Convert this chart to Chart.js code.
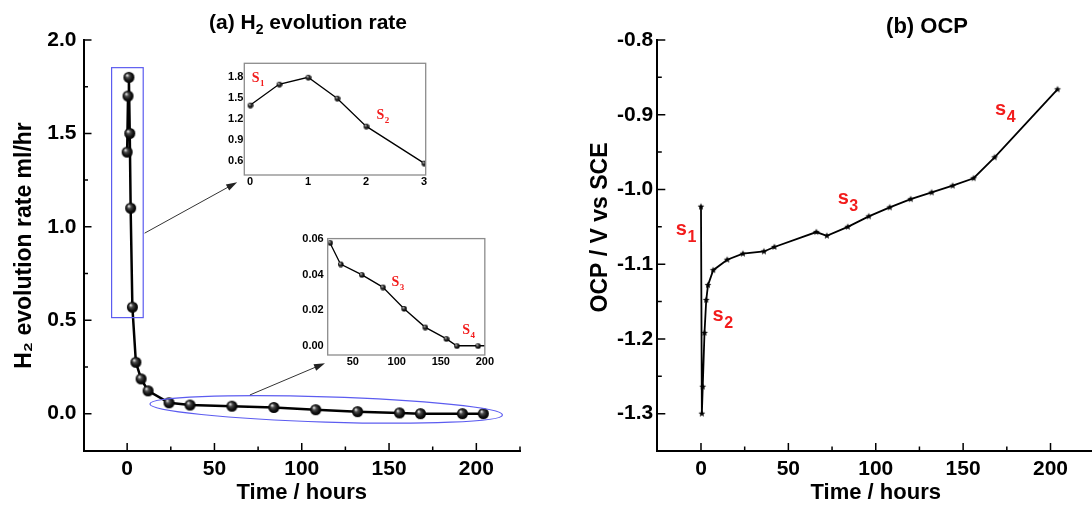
<!DOCTYPE html>
<html>
<head>
<meta charset="utf-8">
<title>H2 evolution rate and OCP</title>
<script src="https://cdn.jsdelivr.net/npm/chart.js@4.4.0/dist/chart.umd.min.js"></script>
<style>
  html, body { margin: 0; padding: 0; background: #fff; overflow: hidden; width: 1092px; height: 512px; }
  canvas { position: absolute; }
</style>
</head>
<body>
<canvas id="mainA" width="546" height="512" style="left:0;top:0"></canvas>
<canvas id="insetA1" width="226" height="140" style="left:205px;top:55px"></canvas>
<canvas id="insetA2" width="212" height="142" style="left:282px;top:228px"></canvas>
<canvas id="mainB" width="554" height="512" style="left:546px;top:0"></canvas>
<script>
// (a) H2 evolution rate, ml/hr vs time in hours
const hoursA = [0, 0.5, 1, 1.5, 2, 3, 5, 8, 12, 24, 36, 60, 84, 108, 132, 156, 168, 192, 204];
const rateA = [1.4, 1.7, 1.8, 1.5, 1.1, 0.57, 0.275, 0.186, 0.122, 0.058, 0.046, 0.040, 0.033, 0.021, 0.0105, 0.004, 0, 0, 0];

// (b) OCP, V vs SCE
const hoursB = [0, 0.5, 1, 2, 3, 4, 7, 15, 24, 36, 42, 66, 72, 84, 96, 108, 120, 132, 144, 156, 168, 204];
const ocpB = [-1.023, -1.300, -1.264, -1.192, -1.148, -1.128, -1.108, -1.094, -1.086, -1.083, -1.077, -1.057, -1.062, -1.050, -1.036, -1.024, -1.013, -1.004, -0.995, -0.985, -0.957, -0.866];

// tick labels
const xTicks = [0, 50, 100, 150, 200];
const xMinor = [25, 75, 125, 175, 225];
const yTicksA = [0, 0.5, 1.0, 1.5, 2.0];
const yMinorA = [0.25, 0.75, 1.25, 1.75];
const yTicksB = [-1.3, -1.2, -1.1, -1.0, -0.9, -0.8];
const yMinorB = [-1.25, -1.15, -1.05, -0.95, -0.85];
const xTicksIn1 = [0, 1, 2, 3];
const yTicksIn1 = [0.6, 0.9, 1.2, 1.5, 1.8];
const xTicksIn2 = [50, 100, 150, 200];
const yTicksIn2 = [0, 0.02, 0.04, 0.06];

const FONT = 'Arial, "Liberation Sans", sans-serif';
const SERIF = '"Times New Roman", "Liberation Serif", serif';
const RED = '#f21c1c';
const BLUE = '#5c5cf0';

// shaded ball marker
function ball(r) {
  const c = document.createElement('canvas');
  c.width = c.height = r * 2 + 2;
  const g = c.getContext('2d');
  const m = r + 1;
  const grad = g.createRadialGradient(m - r * 0.35, m - r * 0.4, r * 0.08, m, m, r);
  grad.addColorStop(0, '#e6e6e6');
  grad.addColorStop(0.3, '#4a4a4a');
  grad.addColorStop(0.7, '#111');
  grad.addColorStop(1, '#000');
  g.fillStyle = grad;
  g.beginPath();
  g.arc(m, m, r, 0, Math.PI * 2);
  g.fill();
  return c;
}

// small filled star marker
function star(r) {
  const c = document.createElement('canvas');
  c.width = c.height = Math.ceil(r * 2) + 2;
  const g = c.getContext('2d');
  const m = c.width / 2;
  g.beginPath();
  for (let i = 0; i < 10; i++) {
    const a = -Math.PI / 2 + i * Math.PI / 5;
    const rr = i % 2 ? r * 0.45 : r;
    g.lineTo(m + rr * Math.cos(a), m + rr * Math.sin(a));
  }
  g.closePath();
  g.fillStyle = '#000';
  g.fill();
  return c;
}

const pts = (xs, ys) => xs.map((x, i) => ({x, y: ys[i]}));
const setTicks = vals => axis => { axis.ticks = vals.map(v => ({value: v})); };

function inTicks(chart, xMaj, xMin, yMaj, yMin) {
  const {ctx, chartArea: a, scales: {x, y}} = chart;
  ctx.save();
  ctx.strokeStyle = '#000';
  ctx.lineWidth = 1.5;
  ctx.beginPath();
  const tx = (vals, len) => vals.forEach(v => {
    const p = x.getPixelForValue(v);
    ctx.moveTo(p, a.bottom); ctx.lineTo(p, a.bottom - len);
  });
  const ty = (vals, len) => vals.forEach(v => {
    const p = y.getPixelForValue(v);
    ctx.moveTo(a.left, p); ctx.lineTo(a.left + len, p);
  });
  tx(xMaj, 8); tx(xMin, 4.5); ty(yMaj, 8); ty(yMin, 4.5);
  ctx.stroke();
  ctx.restore();
}

function subText(ctx, txt, sub, x, y, font, subFont, dy) {
  ctx.textAlign = 'left';
  ctx.textBaseline = 'alphabetic';
  ctx.font = font;
  ctx.fillText(txt, x, y);
  const w = ctx.measureText(txt).width;
  ctx.font = subFont;
  ctx.fillText(sub, x + w + 0.5, y + dy);
}

function arrow(ctx, x0, y0, x1, y1) {
  const ang = Math.atan2(y1 - y0, x1 - x0);
  const c = Math.cos(ang), s = Math.sin(ang);
  ctx.beginPath();
  ctx.moveTo(x0, y0);
  ctx.lineTo(x1 - 8 * c, y1 - 8 * s);
  ctx.stroke();
  ctx.beginPath();
  ctx.moveTo(x1, y1);
  ctx.lineTo(x1 - 11 * c + 3.5 * s, y1 - 11 * s - 3.5 * c);
  ctx.lineTo(x1 - 11 * c - 3.5 * s, y1 - 11 * s + 3.5 * c);
  ctx.closePath();
  ctx.fill();
}

function axisOpts(extra) {
  return Object.assign({
    type: 'linear',
    grid: {display: false, drawTicks: false},
    border: {display: true, color: '#000', width: 2},
  }, extra);
}

// ---------- (a) main ----------
new Chart(document.getElementById('mainA'), {
  type: 'line',
  data: {
    datasets: [{
      data: pts(hoursA, rateA),
      borderColor: '#000',
      borderWidth: 2.5,
      pointStyle: ball(5.5),
      pointRadius: 5.5,
      tension: 0
    }]
  },
  options: {
    responsive: false,
    animation: false,
    devicePixelRatio: 1,
    layout: {padding: {top: 40, right: 26, left: 0, bottom: 0}},
    plugins: {legend: {display: false}, tooltip: {enabled: false}},
    scales: {
      x: axisOpts({
        min: -25, max: 225,
        ticks: {color: '#000', padding: 6, font: {family: FONT, size: 21, weight: 'bold'}},
        title: {display: true, text: 'Time / hours', color: '#000', padding: {top: 0, bottom: 6},
          font: {family: FONT, size: 22, weight: 'bold'}},
        afterBuildTicks: setTicks(xTicks),
        afterFit: s => { s.height = 61; }
      }),
      y: axisOpts({
        min: -0.2, max: 2.0,
        ticks: {color: '#000', padding: 7, font: {family: FONT, size: 21, weight: 'bold'},
          callback: v => v.toFixed(1)},
        title: {display: true, text: 'H₂ evolution rate ml/hr', color: '#000', padding: {top: 11, bottom: 0},
          font: {family: FONT, size: 23, weight: 'bold'}},
        afterBuildTicks: setTicks(yTicksA),
        afterFit: s => { s.width = 83.5; }
      })
    }
  },
  plugins: [{
    id: 'decorA',
    afterDraw(chart) {
      const {ctx, scales: {x, y}} = chart;
      inTicks(chart, xTicks, xMinor, yTicksA, yMinorA);
      ctx.save();
      // title
      ctx.fillStyle = '#000';
      ctx.font = 'bold 21px ' + FONT;
      const w1 = ctx.measureText('(a) H').width;
      const w3 = ctx.measureText(' evolution rate').width;
      ctx.font = 'bold 14px ' + FONT;
      const w2 = ctx.measureText('2').width;
      let tx = 308 - (w1 + w2 + w3) / 2;
      ctx.textBaseline = 'alphabetic';
      ctx.textAlign = 'left';
      ctx.font = 'bold 21px ' + FONT;
      ctx.fillText('(a) H', tx, 28.5);
      ctx.font = 'bold 14px ' + FONT;
      ctx.fillText('2', tx + w1, 33.5);
      ctx.font = 'bold 21px ' + FONT;
      ctx.fillText(' evolution rate', tx + w1 + w2, 28.5);

      // blue zoom marks
      ctx.strokeStyle = BLUE;
      ctx.lineWidth = 1.2;
      const bx0 = x.getPixelForValue(-8.9), bx1 = x.getPixelForValue(9.2);
      const by0 = y.getPixelForValue(1.852), by1 = y.getPixelForValue(0.514);
      ctx.strokeRect(bx0, by0, bx1 - bx0, by1 - by0);
      const ecx = x.getPixelForValue(114), ecy = y.getPixelForValue(0.0225);
      const erx = x.getPixelForValue(215) - ecx;
      const ery = y.getPixelForValue(0.0225 - 0.0675) - ecy;
      ctx.beginPath();
      ctx.ellipse(ecx, ecy, erx, ery, 0.031, 0, Math.PI * 2);
      ctx.stroke();

      // arrows to insets
      ctx.strokeStyle = '#333';
      ctx.fillStyle = '#222';
      ctx.lineWidth = 1;
      arrow(ctx, x.getPixelForValue(10), y.getPixelForValue(0.966), x.getPixelForValue(63.0), y.getPixelForValue(1.239));
      arrow(ctx, x.getPixelForValue(70.3), y.getPixelForValue(0.100), x.getPixelForValue(113.3), y.getPixelForValue(0.270));
      ctx.restore();
    }
  }]
});

// ---------- inset helpers ----------
function insetChart(id, data, xr, yr, xt, yt, yFmt, pad, yW, xH, yPad, labels) {
  return new Chart(document.getElementById(id), {
    type: 'line',
    data: {
      datasets: [{
        data,
        borderColor: '#000',
        borderWidth: 1.3,
        pointStyle: ball(2.8),
        pointRadius: 3,
        tension: 0
      }]
    },
    options: {
      responsive: false,
      animation: false,
      devicePixelRatio: 1,
      layout: {padding: pad},
      plugins: {legend: {display: false}, tooltip: {enabled: false}},
      scales: {
        x: {
          type: 'linear', min: xr[0], max: xr[1],
          grid: {display: false, drawTicks: false}, border: {display: false},
          ticks: {color: '#000', padding: 0, font: {family: FONT, size: 11, weight: 'bold'}},
          afterBuildTicks: setTicks(xt),
          afterFit: s => { s.height = xH; }
        },
        y: {
          type: 'linear', min: yr[0], max: yr[1],
          grid: {display: false, drawTicks: false}, border: {display: false},
          ticks: {color: '#000', padding: yPad, font: {family: FONT, size: 11, weight: 'bold'}, callback: yFmt},
          afterBuildTicks: setTicks(yt),
          afterFit: s => { s.width = yW; }
        }
      }
    },
    plugins: [{
      id: 'frame',
      afterDraw(chart) {
        const {ctx, chartArea: a, scales: {x, y}} = chart;
        ctx.save();
        ctx.strokeStyle = '#8c8c8c';
        ctx.lineWidth = 1.3;
        ctx.strokeRect(a.left, a.top, a.right - a.left, a.bottom - a.top);
        ctx.fillStyle = RED;
        labels.forEach(l => subText(ctx, 'S', l[0], x.getPixelForValue(l[1]), y.getPixelForValue(l[2]),
          'bold 14px ' + SERIF, 'bold 9px ' + SERIF, 3.5));
        ctx.restore();
      }
    }]
  });
}

insetChart('insetA1',
  pts(hoursA, rateA).filter(p => p.x <= 3),
  [-0.1, 3.03], [0.4, 2.0], xTicksIn1, yTicksIn1, v => v.toFixed(1),
  {top: 8.3, right: 5, left: 0, bottom: 0}, 39.3, 20, 1,
  [['1', 0.03, 1.727], ['2', 2.18, 1.197]]);

insetChart('insetA2',
  pts(hoursA, rateA).filter(p => p.x >= 24),
  [21.5, 200], [-0.0052, 0.0603], xTicksIn2, yTicksIn2, v => v.toFixed(2),
  {top: 9.7, right: 4.7, left: 0, bottom: 0}, 45.7, 15, 4,
  [['3', 94, 0.0334], ['4', 174.3, 0.0065]]);

// ---------- (b) OCP ----------
new Chart(document.getElementById('mainB'), {
  type: 'line',
  data: {
    datasets: [{
      data: pts(hoursB, ocpB),
      borderColor: '#000',
      borderWidth: 1.8,
      pointStyle: star(3.6),
      pointRadius: 3.6,
      tension: 0
    }]
  },
  options: {
    responsive: false,
    animation: false,
    devicePixelRatio: 1,
    layout: {padding: {top: 40, right: 4, left: 0, bottom: 0}},
    plugins: {legend: {display: false}, tooltip: {enabled: false}},
    scales: {
      x: axisOpts({
        min: -25, max: 225,
        ticks: {color: '#000', padding: 6, font: {family: FONT, size: 21, weight: 'bold'}},
        title: {display: true, text: 'Time / hours', color: '#000', padding: {top: 0, bottom: 6},
          font: {family: FONT, size: 22, weight: 'bold'}},
        afterBuildTicks: setTicks(xTicks),
        afterFit: s => { s.height = 61; }
      }),
      y: axisOpts({
        min: -1.35, max: -0.8,
        ticks: {color: '#000', padding: 4, font: {family: FONT, size: 21, weight: 'bold'},
          callback: v => v.toFixed(1)},
        afterBuildTicks: setTicks(yTicksB),
        afterFit: s => { s.width = 111.3; }
      })
    }
  },
  plugins: [{
    id: 'decorB',
    afterDraw(chart) {
      const {ctx, scales: {x, y}} = chart;
      inTicks(chart, xTicks, xMinor, yTicksB, yMinorB);
      ctx.save();
      ctx.fillStyle = '#000';
      ctx.textAlign = 'center';
      ctx.textBaseline = 'alphabetic';
      ctx.font = 'bold 22px ' + FONT;
      ctx.fillText('(b) OCP', 381, 32.5);
      // y axis title
      ctx.translate(55, 227.5);
      ctx.rotate(-Math.PI / 2);
      ctx.textBaseline = 'middle';
      ctx.font = 'bold 23px ' + FONT;
      ctx.fillText('OCP / V vs SCE', 0, 0);
      ctx.restore();

      ctx.save();
      ctx.fillStyle = RED;
      [['1', -14.4, -1.061], ['2', 6.6, -1.1756], ['3', 78.2, -1.0195], ['4', 168.3, -0.9004]].forEach(l =>
        subText(ctx, 's', l[0], x.getPixelForValue(l[1]), y.getPixelForValue(l[2]),
          'bold 20px ' + FONT, 'bold 16px ' + FONT, 7));
      ctx.restore();
    }
  }]
});
</script>
</body>
</html>
